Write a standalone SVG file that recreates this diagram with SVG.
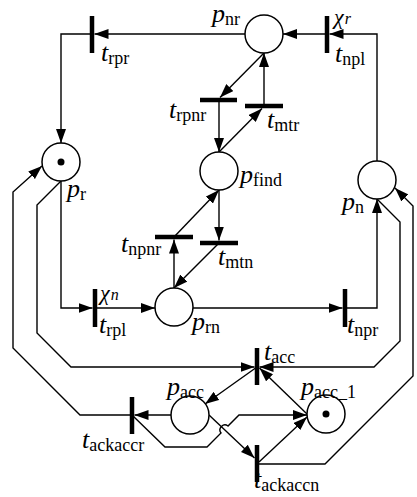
<svg xmlns="http://www.w3.org/2000/svg" width="417" height="497" viewBox="0 0 417 497">
<style>
.pl{fill:#fff;stroke:#000;stroke-width:1.5}
.tok{fill:#000}
.tr{stroke:#000;stroke-width:4.5}
.c{fill:none;stroke:#000;stroke-width:1.4;marker-end:url(#ah)}
.cn{fill:none;stroke:#000;stroke-width:1.4}
text{font-family:"Liberation Serif","Times New Roman",serif;fill:#000}
.m{font-style:italic;font-size:26px}
.s{font-size:18px}
.g{font-style:italic;font-size:22px}
.gs{font-style:italic;font-size:16px}
</style>
<defs>
<marker id="ah" markerUnits="userSpaceOnUse" markerWidth="14" markerHeight="10" refX="14" refY="5" orient="auto" viewBox="0 0 14 10">
<path d="M0,0 L14,5 L0,10 z" fill="#000"/>
</marker>
</defs>
<g id="connectors">
<path class="c" d="M245,34 L94.5,34"/>
<path class="c" d="M92,34 L61,34 L61,143"/>
<path class="c" d="M327,34 L283,34"/>
<path class="c" d="M377,161 L377,34 L329.5,34"/>
<path class="c" d="M264,53 L220,97.5"/>
<path class="c" d="M264,106 L264,53"/>
<path class="c" d="M219,100 L219,152"/>
<path class="c" d="M219,152 L262,108.5"/>
<path class="c" d="M174,237 L219,190"/>
<path class="c" d="M219,190 L219,240.5"/>
<path class="c" d="M219,243 L174,288"/>
<path class="c" d="M174,288 L174,239.5"/>
<path class="c" d="M61,181 L61,308 L92.5,308"/>
<path class="c" d="M95,308 L155,308"/>
<path class="c" d="M193,308 L342.5,308"/>
<path class="c" d="M345,308 L377,308 L377,199"/>
<path class="c" d="M61,181 L37,205 L37,333 L71,367 L254.5,367"/>
<path class="c" d="M377,199 L400,222 L400,341 L374,367 L259.5,367"/>
<path class="c" d="M132,415 L80,415 L13,348 L13,192 L42,166"/>
<path class="c" d="M257,464 L325,464 L413,376 L413,206 L395,188"/>
<path class="c" d="M257,367 L205,404"/>
<path class="c" d="M307,414 L259.5,368"/>
<path class="c" d="M171,415 L134.5,415"/>
<path class="c" d="M209,415 L254.5,458"/>
<path class="c" d="M259,462 L307,417"/>
<path class="c" d="M132,415 L165,447 L207,447 L221,433 A5,5 0 0 1 228,426 L239,415 L307,415"/>
</g>
<g id="p_nr"><circle class="pl" cx="264" cy="34" r="19"/><text x="212" y="22"><tspan class="m">p</tspan><tspan class="s" dy="3">nr</tspan></text></g>
<g id="p_r"><circle class="pl" cx="61" cy="162" r="19"/><circle class="tok" cx="61" cy="162" r="3.5"/><text x="67" y="197"><tspan class="m">p</tspan><tspan class="s" dy="3">r</tspan></text></g>
<g id="p_find"><circle class="pl" cx="219" cy="171" r="19"/><text x="240" y="183"><tspan class="m">p</tspan><tspan class="s" dy="3">find</tspan></text></g>
<g id="p_n"><circle class="pl" cx="377" cy="180" r="19"/><text x="342" y="210"><tspan class="m">p</tspan><tspan class="s" dy="3">n</tspan></text></g>
<g id="p_rn"><circle class="pl" cx="174" cy="307" r="19"/><text x="192" y="330"><tspan class="m">p</tspan><tspan class="s" dy="3">rn</tspan></text></g>
<g id="p_acc"><circle class="pl" cx="190" cy="415" r="19"/><text x="167" y="395"><tspan class="m">p</tspan><tspan class="s" dy="3">acc</tspan></text></g>
<g id="p_acc_1"><circle class="pl" cx="326" cy="414" r="19"/><circle class="tok" cx="326" cy="414" r="3.5"/><text x="301" y="395"><tspan class="m">p</tspan><tspan class="s" dy="3">acc_1</tspan></text></g>
<g id="t_rpr"><line class="tr" x1="92" y1="16" x2="92" y2="53"/><text x="101" y="61"><tspan class="m">t</tspan><tspan class="s" dy="3">rpr</tspan></text></g>
<g id="t_npl"><line class="tr" x1="327" y1="16" x2="327" y2="53"/><text x="334" y="24"><tspan class="g">χ</tspan><tspan class="gs" dx="1">r</tspan></text><text x="335" y="62"><tspan class="m">t</tspan><tspan class="s" dy="3">npl</tspan></text></g>
<g id="t_rpnr"><line class="tr" x1="200" y1="100" x2="237" y2="100"/><text x="169" y="118"><tspan class="m">t</tspan><tspan class="s" dy="3">rpnr</tspan></text></g>
<g id="t_mtr"><line class="tr" x1="245" y1="106" x2="283" y2="106"/><text x="267" y="128"><tspan class="m">t</tspan><tspan class="s" dy="3">mtr</tspan></text></g>
<g id="t_npnr"><line class="tr" x1="155" y1="237" x2="193" y2="237"/><text x="121" y="252"><tspan class="m">t</tspan><tspan class="s" dy="3">npnr</tspan></text></g>
<g id="t_mtn"><line class="tr" x1="200" y1="243" x2="238" y2="243"/><text x="218" y="265"><tspan class="m">t</tspan><tspan class="s" dy="3">mtn</tspan></text></g>
<g id="t_rpl"><line class="tr" x1="95" y1="289" x2="95" y2="327"/><text x="100" y="300"><tspan class="g">χ</tspan><tspan class="gs" dx="1">n</tspan></text><text x="99" y="333"><tspan class="m">t</tspan><tspan class="s" dy="3">rpl</tspan></text></g>
<g id="t_npr"><line class="tr" x1="345" y1="289" x2="345" y2="327"/><text x="347" y="333"><tspan class="m">t</tspan><tspan class="s" dy="3">npr</tspan></text></g>
<g id="t_acc"><line class="tr" x1="257" y1="348" x2="257" y2="385"/><text x="264" y="360"><tspan class="m">t</tspan><tspan class="s" dy="3">acc</tspan></text></g>
<g id="t_ackaccr"><line class="tr" x1="132" y1="397" x2="132" y2="434"/><text x="82" y="448"><tspan class="m">t</tspan><tspan class="s" dy="3">ackaccr</tspan></text></g>
<g id="t_ackaccn"><line class="tr" x1="257" y1="445" x2="257" y2="482"/><text x="254" y="488"><tspan class="m">t</tspan><tspan class="s" dy="3">ackaccn</tspan></text></g>
</svg>
